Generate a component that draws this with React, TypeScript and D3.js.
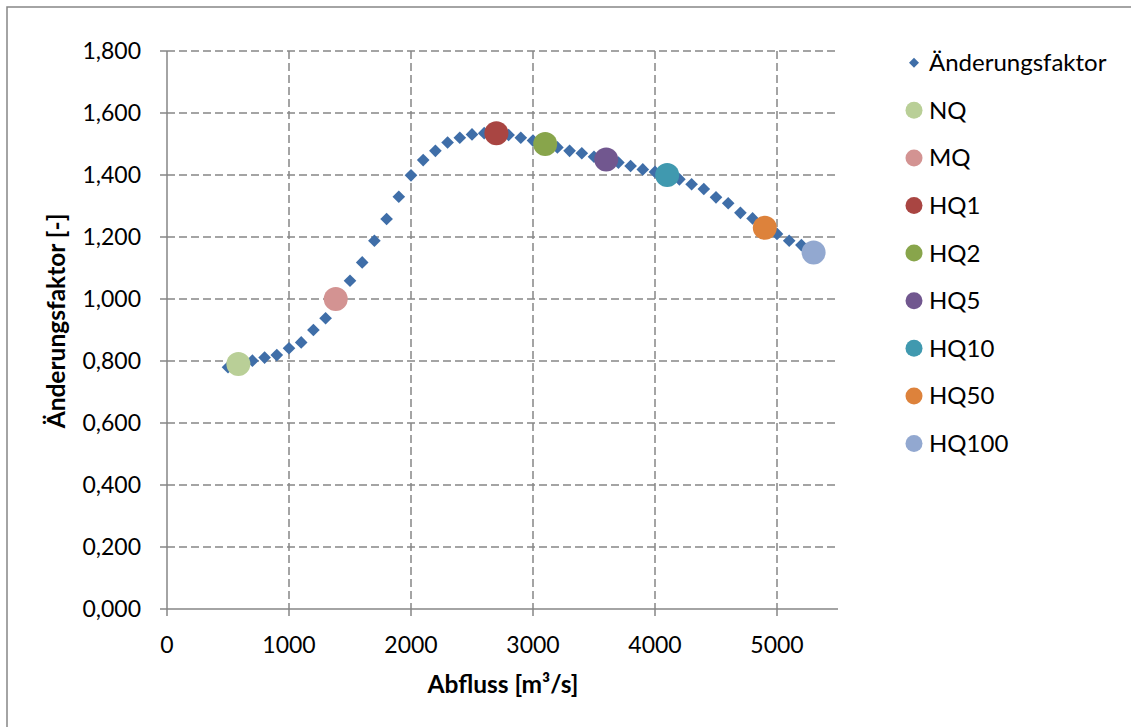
import React from "react";
import * as d3 from "d3";

const flowValues = [500,600,700,800,900,1000,1100,1200,1300,1400,1500,1600,1700,1800,1900,2000,2100,2200,2300,2400,2500,2600,2700,2800,2900,3000,3100,3200,3300,3400,3500,3600,3700,3800,3900,4000,4100,4200,4300,4400,4500,4600,4700,4800,4900,5000,5100,5200,5300];
const factorValues = [0.780,0.790,0.801,0.811,0.819,0.841,0.860,0.900,0.938,1.000,1.059,1.118,1.188,1.258,1.330,1.399,1.448,1.478,1.505,1.520,1.531,1.535,1.533,1.529,1.520,1.511,1.500,1.489,1.478,1.470,1.459,1.450,1.440,1.429,1.418,1.410,1.400,1.386,1.370,1.355,1.328,1.309,1.278,1.260,1.230,1.210,1.188,1.174,1.150];

const keyNames = ["NQ","MQ","HQ1","HQ2","HQ5","HQ10","HQ50","HQ100"];
const keyFlows = [585,1383,2700,3100,3600,4100,4900,5300];
const keyFactors = [0.790,1.000,1.535,1.500,1.450,1.400,1.230,1.150];
const keyColors = ["#B9CF97","#D39392","#A94542","#88A54B","#71578F","#4099AF","#DD823B","#92A8D0"];

const xTicks = [0,1000,2000,3000,4000,5000];
const yTicks = [0,0.2,0.4,0.6,0.8,1.0,1.2,1.4,1.6,1.8];

const FONT = "Lato, 'Open Sans', sans-serif";
const GRID = "#868686";
const DIAMOND = "#3F6EA8";

export default function App() {
  const x = d3.scaleLinear().domain([0, 5500]).range([167, 838]);
  const y = d3.scaleLinear().domain([0, 1.8]).range([609, 51]);
  const fmtY = (v: number) => d3.format(",.3f")(v).replace(".", ",");
  const diamond = d3.symbol().type(d3.symbolSquare).size(80)() as string;
  const legDiamond = d3.symbol().type(d3.symbolSquare).size(50)() as string;

  const legendX = 914;
  const legendY0 = 62.7;
  const legendStep = 47.6;

  return (
    <svg width={1131} height={727} style={{ position: "absolute", left: 0, top: 0 }} fontFamily={FONT}>
      <rect x={0} y={0} width={1131} height={727} fill="#fff" />
      <rect x={7} y={7} width={1200} height={800} fill="none" stroke={GRID} strokeWidth={1.5} />
      {yTicks.filter((t) => t > 0).map((t) => (
        <line key={"gy" + t} x1={167} x2={838} y1={y(t)} y2={y(t)} stroke={GRID} strokeWidth={1.5} strokeDasharray="8,4" />
      ))}
      {xTicks.filter((t) => t > 0).map((t) => (
        <line key={"gx" + t} x1={x(t)} x2={x(t)} y1={51} y2={609} stroke={GRID} strokeWidth={1.5} strokeDasharray="8,4" />
      ))}
      <line x1={167} x2={167} y1={51} y2={609} stroke={GRID} strokeWidth={1.5} />
      <line x1={167} x2={838} y1={609} y2={609} stroke={GRID} strokeWidth={1.5} />
      {yTicks.map((t) => (
        <g key={"ty" + t}>
          <line x1={160} x2={167} y1={y(t)} y2={y(t)} stroke={GRID} strokeWidth={1.5} />
          <text x={141} y={y(t)} dy="0.35em" textAnchor="end" fontSize={23} fill="#000">{fmtY(t)}</text>
        </g>
      ))}
      {xTicks.map((t) => (
        <g key={"tx" + t}>
          <line x1={x(t)} x2={x(t)} y1={609} y2={616} stroke={GRID} strokeWidth={1.5} />
          <text x={x(t)} y={645} dy="0.35em" textAnchor="middle" fontSize={23} fill="#000">{t}</text>
        </g>
      ))}
      <text x={503} y={693} textAnchor="middle" fontSize={24.5} fontWeight="bold" fill="#000">Abfluss [m³/s]</text>
      <text transform={`translate(65,321) rotate(-90)`} textAnchor="middle" fontSize={24.5} fontWeight="bold" fill="#000">Änderungsfaktor [-]</text>
      {flowValues.map((f, i) => (
        <path key={"d" + i} d={diamond} transform={`translate(${x(f)},${y(factorValues[i])}) rotate(45)`} fill={DIAMOND} />
      ))}
      {keyFlows.map((f, i) => (
        <circle key={"k" + i} cx={x(f)} cy={y(keyFactors[i])} r={12} fill={keyColors[i]} />
      ))}
      <path d={legDiamond} transform={`translate(${legendX},${legendY0}) rotate(45)`} fill={DIAMOND} />
      <text x={929} y={legendY0} dy="0.35em" fontSize={24} fill="#000">Änderungsfaktor</text>
      {keyNames.map((n, i) => {
        const ly = legendY0 + legendStep * (i + 1);
        return (
          <g key={"l" + n}>
            <circle cx={legendX} cy={ly} r={8.5} fill={keyColors[i]} />
            <text x={929} y={ly} dy="0.35em" fontSize={24} fill="#000">{n}</text>
          </g>
        );
      })}
    </svg>
  );
}
